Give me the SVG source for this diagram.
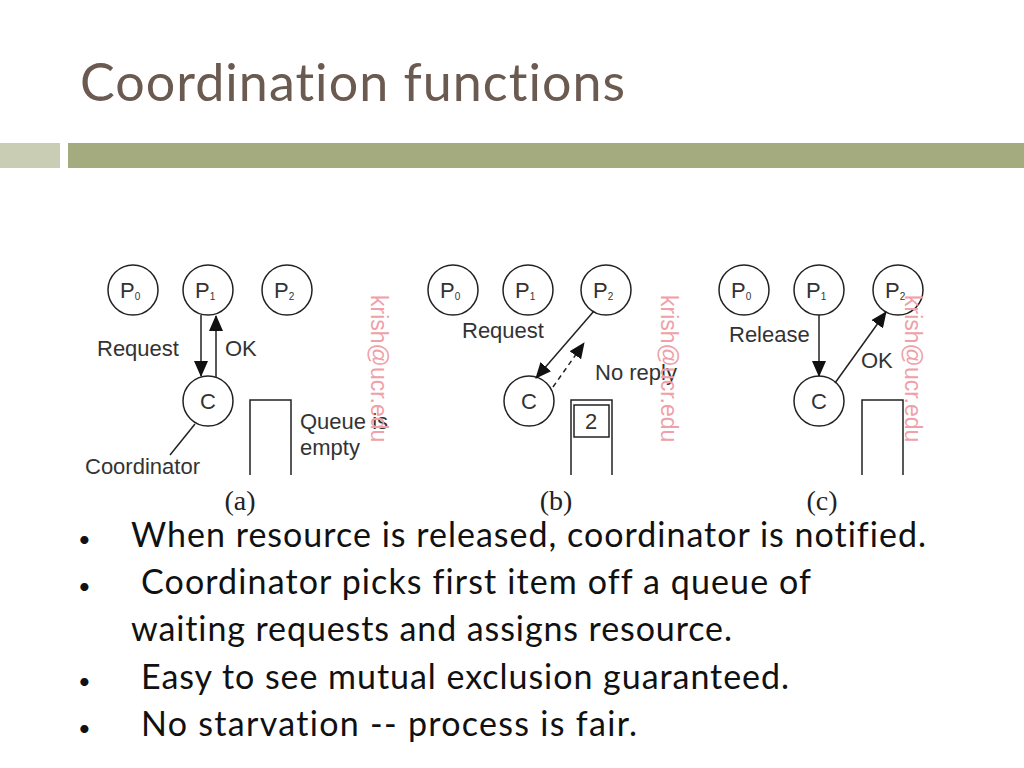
<svg xmlns="http://www.w3.org/2000/svg" width="1024" height="768" viewBox="0 0 1024 768">
<style>
.n{fill:#fff;stroke:#222;stroke-width:1.5}
.l{font-family:"Liberation Sans",Arial,sans-serif;font-size:22px;fill:#333}
.p{font-family:"Liberation Sans",Arial,sans-serif;font-size:22px;fill:#333}
.s{font-size:10px}
.e{stroke:#222;stroke-width:1.5;fill:none}
.w{font-family:"Liberation Sans",Arial,sans-serif;font-size:23px;fill:#f0a0a8}
.cap{font-family:"Liberation Serif",serif;font-size:28px;fill:#222}
.b{font-family:Lato,"Open Sans",sans-serif;font-size:34px;fill:#111;font-variant-ligatures:none}
</style>
<defs><marker id="a" markerWidth="16" markerHeight="14" refX="15" refY="7" orient="auto" markerUnits="userSpaceOnUse"><path d="M0,0 L16,7 L0,14 z" fill="#111"/></marker></defs>
<rect width="1024" height="768" fill="#fff"/>
<text x="80" y="101" font-family="Lato,'Open Sans',sans-serif" font-size="52" fill="#6b5a50" textLength="545" lengthAdjust="spacing" style="font-variant-ligatures:none">Coordination functions</text>
<rect x="0" y="143" width="60" height="25" fill="#c9cdb3"/>
<rect x="68" y="143" width="956" height="25" fill="#a3ab7f"/>
<g id="nodes">
<g id="a-p0"><circle class="n" cx="133" cy="290" r="25"/><text class="p" x="120" y="298">P<tspan class="s" dy="2">0</tspan></text></g>
<g id="a-p1"><circle class="n" cx="208" cy="290" r="25"/><text class="p" x="195" y="298">P<tspan class="s" dy="2">1</tspan></text></g>
<g id="a-p2"><circle class="n" cx="287" cy="290" r="25"/><text class="p" x="274" y="298">P<tspan class="s" dy="2">2</tspan></text></g>
<g id="a-c"><circle class="n" cx="208" cy="401" r="25"/><text class="p" x="208" y="409" text-anchor="middle">C</text></g>
<g id="b-p0"><circle class="n" cx="453" cy="290" r="25"/><text class="p" x="440" y="298">P<tspan class="s" dy="2">0</tspan></text></g>
<g id="b-p1"><circle class="n" cx="528" cy="290" r="25"/><text class="p" x="515" y="298">P<tspan class="s" dy="2">1</tspan></text></g>
<g id="b-p2"><circle class="n" cx="606" cy="290" r="25"/><text class="p" x="593" y="298">P<tspan class="s" dy="2">2</tspan></text></g>
<g id="b-c"><circle class="n" cx="529" cy="401" r="25"/><text class="p" x="529" y="409" text-anchor="middle">C</text></g>
<g id="c-p0"><circle class="n" cx="744" cy="290" r="25"/><text class="p" x="731" y="298">P<tspan class="s" dy="2">0</tspan></text></g>
<g id="c-p1"><circle class="n" cx="819" cy="290" r="25"/><text class="p" x="806" y="298">P<tspan class="s" dy="2">1</tspan></text></g>
<g id="c-p2"><circle class="n" cx="898" cy="290" r="25"/><text class="p" x="885" y="298">P<tspan class="s" dy="2">2</tspan></text></g>
<g id="c-c"><circle class="n" cx="819" cy="401" r="25"/><text class="p" x="819" y="409" text-anchor="middle">C</text></g>
</g>
<g id="queues">
<path class="e" d="M250,475 V400 H291 V475"/>
<path class="e" d="M571,475 V400 H612 V475"/>
<rect class="e" x="574" y="405" width="35" height="32"/>
<text class="p" x="591" y="429" text-anchor="middle">2</text>
<path class="e" d="M862,475 V400 H903 V475"/>
</g>
<g id="connectors">
<line class="e" x1="201" y1="315" x2="201" y2="376" marker-end="url(#a)"/>
<line class="e" x1="216" y1="377" x2="216" y2="316" marker-end="url(#a)"/>
<line class="e" x1="195" y1="424" x2="170" y2="455"/>
<line class="e" x1="594" y1="311" x2="536" y2="378" marker-end="url(#a)"/>
<line class="e" x1="553" y1="387" x2="584" y2="343" stroke-dasharray="5,4" marker-end="url(#a)"/>
<line class="e" x1="819" y1="315" x2="819" y2="376" marker-end="url(#a)"/>
<line class="e" x1="835" y1="383" x2="886" y2="312" marker-end="url(#a)"/>
</g>
<g id="labels">
<text class="l" x="97" y="356">Request</text>
<text class="l" x="225" y="356">OK</text>
<text class="l" x="85" y="474">Coordinator</text>
<text class="l" x="300" y="429">Queue is</text>
<text class="l" x="300" y="455">empty</text>
<text class="l" x="462" y="338">Request</text>
<text class="l" x="595" y="380">No reply</text>
<text class="l" x="729" y="342">Release</text>
<text class="l" x="861" y="368">OK</text>
</g>
<g id="watermarks">
<text class="w" transform="translate(371,295) rotate(90)">krish@ucr.edu</text>
<text class="w" transform="translate(661,295) rotate(90)">krish@ucr.edu</text>
<text class="w" transform="translate(905,295) rotate(90)">krish@ucr.edu</text>
</g>
<text class="cap" x="240" y="510" text-anchor="middle">(a)</text>
<text class="cap" x="556" y="510" text-anchor="middle">(b)</text>
<text class="cap" x="822" y="510" text-anchor="middle">(c)</text>
<g id="bullets" class="b">
<text x="78" y="547" font-size="22">•</text><text x="131" y="547" textLength="795" lengthAdjust="spacing">When resource is released, coordinator is notified.</text>
<text x="78" y="594" font-size="22">•</text><text x="141" y="594" textLength="670" lengthAdjust="spacing">Coordinator picks first item off a queue of</text>
<text x="131" y="641" textLength="601" lengthAdjust="spacing">waiting requests and assigns resource.</text>
<text x="78" y="689" font-size="22">•</text><text x="141" y="689" textLength="648" lengthAdjust="spacing">Easy to see mutual exclusion guaranteed.</text>
<text x="78" y="736" font-size="22">•</text><text x="141" y="736" textLength="496" lengthAdjust="spacing">No starvation --  process is fair.</text>
</g>
</svg>
